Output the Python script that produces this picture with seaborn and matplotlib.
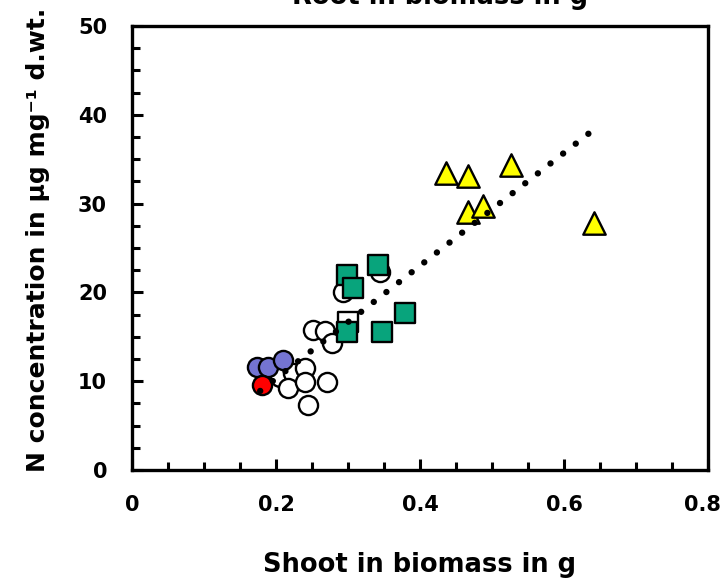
import matplotlib
matplotlib.use("Agg")
import matplotlib.pyplot as plt
import matplotlib.transforms as mtransforms
import seaborn as sns
import pandas as pd
from matplotlib.ticker import MultipleLocator

# ---- data ----
white_circ_x = [0.206, 0.224, 0.217, 0.240, 0.240, 0.271, 0.244, 0.251, 0.268, 0.278, 0.293, 0.344]
white_circ_y = [10.5, 10.9, 9.2, 11.5, 9.9, 9.9, 7.3, 15.8, 15.6, 14.3, 20.0, 22.3]

blue_x = [0.174, 0.189, 0.210]
blue_y = [11.6, 11.6, 12.4]

red_x = [0.181]
red_y = [9.6]

white_sq_x = [0.300]
white_sq_y = [16.7]

green_x = [0.299, 0.307, 0.342, 0.299, 0.347, 0.379]
green_y = [22.0, 20.5, 23.1, 15.5, 15.5, 17.7]

yellow_x = [0.436, 0.466, 0.526, 0.467, 0.487, 0.642]
yellow_y = [33.5, 33.1, 34.3, 29.0, 29.7, 27.8]

trend_x = [0.178, 0.636]
trend_y = [8.9, 38.0]

xticks = [0, 0.2, 0.4, 0.6, 0.8]
xtick_labels = ["0", "0.2", "0.4", "0.6", "0.8"]
yticks = [0, 10, 20, 30, 40, 50]

sns.set_style("white")
plt.rcParams["font.family"] = ["DejaVu Sans"]
plt.rcParams["text.color"] = "black"
plt.rcParams["xtick.color"] = "black"
plt.rcParams["ytick.color"] = "black"
plt.rcParams["xtick.labelcolor"] = "black"
plt.rcParams["ytick.labelcolor"] = "black"

fig = plt.figure(figsize=(7.23, 5.79), dpi=100)
ax = fig.add_axes([132/723, 1 - 470/579, 576/723, 444/579])

def group(xs, ys):
    return pd.DataFrame({"x": xs, "y": ys})

kw = dict(edgecolor="black", linewidth=1.7, ax=ax, legend=False, zorder=3)
sns.scatterplot(data=group(white_circ_x, white_circ_y), x="x", y="y", marker="o",
                s=190, color="white", **kw)
sns.scatterplot(data=group(blue_x, blue_y), x="x", y="y", marker="o",
                s=190, color="#7474D2", **kw)
sns.scatterplot(data=group(red_x, red_y), x="x", y="y", marker="o",
                s=190, color="#FF0000", **kw)
sns.scatterplot(data=group(white_sq_x, white_sq_y), x="x", y="y", marker="s",
                s=190, color="white", **kw)
sns.scatterplot(data=group(green_x, green_y), x="x", y="y", marker="s",
                s=190, color="#08A47C", **kw)
sns.scatterplot(data=group(yellow_x, yellow_y), x="x", y="y", marker="^",
                s=260, color="#FFFF00", **kw)

sns.lineplot(data=group(trend_x, trend_y), x="x", y="y", ax=ax, color="black",
             lw=4.6, zorder=5)
line = ax.lines[-1]
line.set_linestyle((0, (0.01, 2.5)))
line.set_dash_capstyle("round")

ax.set_xlim(0, 0.8)
ax.set_ylim(0, 50)
ax.set_xticks(xticks)
ax.set_xticklabels(xtick_labels)
ax.set_yticks(yticks)
ax.xaxis.set_minor_locator(MultipleLocator(0.05))
ax.yaxis.set_minor_locator(MultipleLocator(2.5))
ax.tick_params(axis="both", which="major", direction="in", length=8, width=2.2,
               labelsize=15, pad=18, bottom=True, left=True, top=False, right=False,
               colors="black")
ax.tick_params(axis="both", which="minor", direction="in", length=6, width=2.2,
               bottom=True, left=True, top=False, right=False, colors="black")
for lab in ax.get_xticklabels() + ax.get_yticklabels():
    lab.set_fontweight("bold")
last = ax.get_xticklabels()[-1]
last.set_transform(last.get_transform() +
                   mtransforms.ScaledTranslation(-6/100, 0, fig.dpi_scale_trans))
for sp in ax.spines.values():
    sp.set_visible(True)
    sp.set_linewidth(2.4)
    sp.set_color("black")

ax.set_xlabel("")
ax.set_ylabel("")
fig.text(419/723, 1 - 565/579, "Shoot in biomass in g", color="black",
         ha="center", va="center", fontsize=18.5, fontweight="bold")
fig.text(38/723, 1 - 240/579, "N concentration in \u03bcg mg\u207b\u00b9 d.wt.",
         color="black", ha="center", va="center", rotation=90, fontsize=18,
         fontweight="bold")
fig.text(440/723, 1 - 4/579, "Root in biomass in g", color="black",
         ha="center", va="baseline", fontsize=18.5, fontweight="bold")

fig.savefig("out.png", dpi=100)
